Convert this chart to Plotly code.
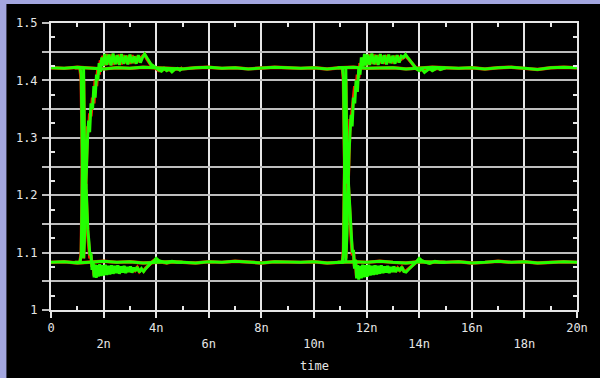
import plotly.graph_objects as go

# ---------------- data (time in ns, voltage in V) ----------------
t_flat = [0, 0.5, 1, 1.5, 2, 2.5, 3, 3.5, 4, 4.5, 5, 5.5, 6, 6.5, 7, 7.5, 8, 8.5, 9, 9.5,
          10, 10.5, 11, 11.5, 12, 12.5, 13, 13.5, 14, 14.5, 15, 15.5, 16, 16.5, 17, 17.5,
          18, 18.5, 19, 19.5, 20]
hi_flat = [1.422, 1.421, 1.423, 1.422, 1.420, 1.422, 1.421, 1.423, 1.422, 1.421,
           1.420, 1.422, 1.423, 1.421, 1.422, 1.420, 1.421, 1.423, 1.422, 1.421,
           1.422, 1.420, 1.422, 1.423, 1.421, 1.422, 1.422, 1.420, 1.421, 1.423,
           1.422, 1.421, 1.422, 1.420, 1.422, 1.423, 1.421, 1.419, 1.422, 1.423, 1.422]
lo_flat = [1.083, 1.084, 1.082, 1.083, 1.085, 1.083, 1.084, 1.082, 1.083, 1.084,
           1.083, 1.082, 1.084, 1.083, 1.085, 1.083, 1.082, 1.084, 1.083, 1.083,
           1.084, 1.082, 1.083, 1.084, 1.083, 1.085, 1.083, 1.082, 1.084, 1.083,
           1.083, 1.084, 1.082, 1.083, 1.085, 1.083, 1.084, 1.082, 1.083, 1.084, 1.083]

# glitch 1: high trace dips and recovers (A1), low trace spikes and decays (B1)
tA1 = [0.9, 1.1, 1.15, 1.18, 1.21, 1.24, 1.27, 1.31, 1.35, 1.39,
       1.43, 1.47, 1.52, 1.58, 1.63, 1.68, 1.73, 1.78, 1.83, 1.88,
       1.93, 1.98, 2.05, 2.12, 2.2, 2.28, 2.36, 2.44, 2.52, 2.6,
       2.68, 2.76, 2.84, 2.92, 3.0, 3.08, 3.16, 3.24, 3.32, 3.4,
       3.48, 3.56, 3.64, 3.72, 3.8, 3.9, 4.0, 4.1, 4.2, 4.3,
       4.4, 4.5, 4.6, 4.7, 4.8, 4.9, 5.0]
vA1 = [1.422, 1.422, 1.41, 1.33, 1.19, 1.09, 1.12, 1.20, 1.27, 1.30,
       1.33, 1.31, 1.36, 1.35, 1.39, 1.37, 1.41, 1.40, 1.43, 1.415,
       1.44, 1.425, 1.446, 1.427, 1.445, 1.426, 1.447, 1.428, 1.444, 1.427,
       1.446, 1.429, 1.443, 1.428, 1.445, 1.43, 1.442, 1.429, 1.444, 1.431,
       1.44, 1.446, 1.44, 1.434, 1.428, 1.425, 1.421, 1.418, 1.416, 1.421,
       1.417, 1.42, 1.415, 1.419, 1.421, 1.418, 1.422]
rA1 = [1.422, 1.422, 1.40, 1.30, 1.16, 1.09, 1.14, 1.22, 1.28, 1.32,
       1.31, 1.34, 1.34, 1.37, 1.36, 1.40, 1.39, 1.42, 1.41, 1.435,
       1.428, 1.443, 1.426, 1.446, 1.428, 1.445, 1.427, 1.443, 1.429, 1.445,
       1.428, 1.444, 1.43, 1.443, 1.429, 1.444, 1.43, 1.442, 1.432, 1.439,
       1.442, 1.445, 1.438, 1.433, 1.427, 1.424, 1.42, 1.417, 1.417, 1.42,
       1.418, 1.419, 1.416, 1.42, 1.42, 1.419, 1.422]

tB1 = [0.9, 1.1, 1.15, 1.18, 1.21, 1.24, 1.27, 1.3, 1.33, 1.36,
       1.4, 1.44, 1.48, 1.52, 1.56, 1.6, 1.64, 1.68, 1.72, 1.76,
       1.8, 1.85, 1.9, 1.95, 2.0, 2.06, 2.12, 2.18, 2.24, 2.3,
       2.36, 2.42, 2.48, 2.54, 2.6, 2.66, 2.72, 2.78, 2.84, 2.9,
       2.96, 3.02, 3.08, 3.14, 3.2, 3.28, 3.36, 3.44, 3.52, 3.6,
       3.7, 3.8, 3.9, 4.0, 4.1, 4.25, 4.4, 4.6, 4.8, 5.0]
vB1 = [1.083, 1.083, 1.095, 1.19, 1.33, 1.42, 1.30, 1.21, 1.22, 1.17,
       1.14, 1.12, 1.095, 1.10, 1.07, 1.085, 1.057, 1.079, 1.056, 1.078,
       1.058, 1.08, 1.059, 1.078, 1.06, 1.079, 1.061, 1.077, 1.062, 1.078,
       1.063, 1.077, 1.064, 1.078, 1.063, 1.076, 1.065, 1.077, 1.064, 1.075,
       1.066, 1.076, 1.065, 1.074, 1.068, 1.075, 1.066, 1.072, 1.067, 1.072,
       1.077, 1.082, 1.085, 1.09, 1.086, 1.084, 1.082, 1.085, 1.083, 1.083]
rB1 = [1.083, 1.083, 1.10, 1.22, 1.36, 1.40, 1.28, 1.20, 1.21, 1.16,
       1.13, 1.11, 1.09, 1.095, 1.075, 1.08, 1.06, 1.077, 1.058, 1.076,
       1.06, 1.078, 1.061, 1.077, 1.062, 1.078, 1.063, 1.076, 1.064, 1.077,
       1.064, 1.076, 1.066, 1.077, 1.064, 1.075, 1.066, 1.076, 1.066, 1.074,
       1.067, 1.075, 1.066, 1.073, 1.069, 1.074, 1.067, 1.071, 1.068, 1.073,
       1.078, 1.083, 1.086, 1.088, 1.085, 1.083, 1.082, 1.084, 1.083, 1.083]

# glitch 2
tA2 = [10.9, 11.08, 11.12, 11.15, 11.18, 11.21, 11.25, 11.29, 11.33, 11.37,
       11.41, 11.45, 11.5, 11.55, 11.6, 11.65, 11.7, 11.75, 11.8, 11.86,
       11.92, 11.98, 12.05, 12.12, 12.2, 12.28, 12.36, 12.44, 12.52, 12.6,
       12.68, 12.76, 12.84, 12.92, 13.0, 13.08, 13.16, 13.24, 13.32, 13.4,
       13.48, 13.56, 13.64, 13.72, 13.8, 13.9, 14.0, 14.1, 14.2, 14.3,
       14.4, 14.5, 14.6, 14.7, 14.8, 15.0]
vA2 = [1.422, 1.422, 1.405, 1.32, 1.17, 1.085, 1.13, 1.21, 1.27, 1.31,
       1.34, 1.32, 1.37, 1.36, 1.40, 1.38, 1.42, 1.41, 1.44, 1.424,
       1.446, 1.426, 1.445, 1.427, 1.447, 1.428, 1.444, 1.427, 1.446, 1.429,
       1.444, 1.428, 1.445, 1.43, 1.443, 1.429, 1.444, 1.431, 1.442, 1.44,
       1.445, 1.44, 1.435, 1.43, 1.426, 1.42, 1.417, 1.42, 1.414, 1.418,
       1.421, 1.417, 1.42, 1.422, 1.419, 1.422]
rA2 = [1.422, 1.422, 1.40, 1.30, 1.15, 1.09, 1.15, 1.23, 1.28, 1.33,
       1.33, 1.35, 1.36, 1.39, 1.385, 1.41, 1.405, 1.43, 1.425, 1.44,
       1.428, 1.444, 1.427, 1.446, 1.429, 1.445, 1.428, 1.444, 1.43, 1.443,
       1.429, 1.444, 1.431, 1.442, 1.43, 1.443, 1.432, 1.44, 1.437, 1.441,
       1.443, 1.439, 1.434, 1.429, 1.425, 1.42, 1.418, 1.419, 1.416, 1.419,
       1.42, 1.418, 1.42, 1.421, 1.42, 1.422]

tB2 = [10.9, 11.08, 11.12, 11.15, 11.18, 11.21, 11.24, 11.27, 11.3, 11.34,
       11.38, 11.42, 11.46, 11.5, 11.54, 11.58, 11.62, 11.66, 11.7, 11.75,
       11.8, 11.85, 11.9, 11.96, 12.02, 12.08, 12.14, 12.2, 12.26, 12.32,
       12.38, 12.44, 12.5, 12.56, 12.62, 12.68, 12.74, 12.8, 12.86, 12.92,
       12.98, 13.04, 13.1, 13.18, 13.26, 13.34, 13.42, 13.5, 13.6, 13.7,
       13.8, 13.9, 14.0, 14.1, 14.25, 14.4, 14.6, 14.8, 15.0]
vB2 = [1.083, 1.083, 1.10, 1.20, 1.36, 1.42, 1.30, 1.22, 1.23, 1.19,
       1.15, 1.13, 1.10, 1.105, 1.072, 1.088, 1.055, 1.078, 1.053, 1.077,
       1.055, 1.079, 1.057, 1.078, 1.058, 1.079, 1.06, 1.077, 1.061, 1.078,
       1.062, 1.077, 1.063, 1.078, 1.064, 1.076, 1.065, 1.077, 1.064, 1.075,
       1.066, 1.076, 1.066, 1.074, 1.068, 1.075, 1.067, 1.066, 1.071, 1.075,
       1.08, 1.084, 1.09, 1.086, 1.083, 1.081, 1.085, 1.083, 1.083]
rB2 = [1.083, 1.083, 1.105, 1.22, 1.38, 1.40, 1.28, 1.21, 1.22, 1.18,
       1.14, 1.12, 1.095, 1.10, 1.076, 1.084, 1.058, 1.076, 1.056, 1.075,
       1.058, 1.077, 1.059, 1.077, 1.06, 1.078, 1.062, 1.076, 1.063, 1.077,
       1.063, 1.076, 1.065, 1.077, 1.065, 1.075, 1.066, 1.076, 1.066, 1.074,
       1.067, 1.075, 1.067, 1.073, 1.069, 1.074, 1.068, 1.068, 1.072, 1.076,
       1.081, 1.085, 1.088, 1.085, 1.083, 1.082, 1.084, 1.083, 1.083]

x_major = [0, 2, 4, 6, 8, 10, 12, 14, 16, 18, 20]
x_labels = ["0", "<br>2n", "4n", "<br>6n", "8n", "<br>10n", "12n", "<br>14n", "16n", "<br>18n", "20n"]
x_minor = [1, 3, 5, 7, 9, 11, 13, 15, 17, 19]
y_major = [1.0, 1.05, 1.1, 1.15, 1.2, 1.25, 1.3, 1.35, 1.4, 1.45, 1.5]
y_labels = ["1", "", "1.1", "", "1.2", "", "1.3", "", "1.4", "", "1.5"]
y_minor = [1.025, 1.075, 1.125, 1.175, 1.225, 1.275, 1.325, 1.375, 1.425, 1.475]

# ---------------- figure ----------------
RED = "#ff1a00"
GREEN = "#22ff00"
FONT = dict(family="DejaVu Sans Mono", size=12, color="#e6e6e6")

fig = go.Figure()
red_sets = [(t_flat, hi_flat), (t_flat, lo_flat), (tA1, rA1), (tB1, rB1), (tA2, rA2), (tB2, rB2)]
green_sets = [(t_flat, hi_flat), (t_flat, lo_flat), (tA1, vA1), (tB1, vB1), (tA2, vA2), (tB2, vB2)]
for tx, vy in red_sets:
    fig.add_trace(go.Scatter(x=tx, y=vy, mode="lines", line=dict(color=RED, width=3.4),
                             showlegend=False, hoverinfo="skip"))
for tx, vy in green_sets:
    fig.add_trace(go.Scatter(x=tx, y=vy, mode="lines", line=dict(color=GREEN, width=3),
                             showlegend=False, hoverinfo="skip"))
# helper (empty) trace for the top/right inside tick axes
fig.add_trace(go.Scatter(x=[], y=[], xaxis="x2", yaxis="y2", showlegend=False, hoverinfo="skip"))

W, H = 600, 378
L, R, T, B = 51, 18, 23, 68
pw, ph = W - L - R, H - T - B

fig.update_layout(
    width=W, height=H,
    margin=dict(l=L, r=R, t=T, b=B, pad=0),
    paper_bgcolor="#a3a6df",
    plot_bgcolor="#000000",
    font=FONT,
    showlegend=False,
    xaxis=dict(
        range=[0, 20], tickmode="array", tickvals=x_major, ticktext=x_labels,
        ticks="outside", ticklen=6, tickwidth=2, tickcolor="#e6e6e6",
        showgrid=True, gridcolor="#e6e6e6", gridwidth=2, zeroline=False,
        showline=True, linecolor="#e6e6e6", linewidth=2, mirror=True,
        tickfont=FONT, fixedrange=True,
        minor=dict(tickvals=x_minor, ticks="inside", ticklen=4, tickwidth=2,
                   tickcolor="#e6e6e6", showgrid=False),
    ),
    yaxis=dict(
        range=[1.0, 1.5], tickmode="array", tickvals=y_major, ticktext=y_labels,
        ticks="outside", ticklen=7, tickwidth=2, tickcolor="#bdbdbd",
        showgrid=True, gridcolor="#bdbdbd", gridwidth=2, zeroline=False,
        showline=True, linecolor="#e6e6e6", linewidth=2, mirror=True,
        tickfont=FONT, ticklabelstandoff=2, fixedrange=True,
        minor=dict(tickvals=y_minor, ticks="inside", ticklen=4, tickwidth=2,
                   tickcolor="#e6e6e6", showgrid=False),
    ),
    xaxis2=dict(
        overlaying="x", side="top", range=[0, 20], tickmode="array", tickvals=x_minor,
        ticks="inside", ticklen=4, tickwidth=2, tickcolor="#e6e6e6",
        showticklabels=False, showgrid=False, zeroline=False, showline=False, fixedrange=True,
    ),
    yaxis2=dict(
        overlaying="y", side="right", range=[1.0, 1.5], tickmode="array", tickvals=y_minor,
        ticks="inside", ticklen=4, tickwidth=2, tickcolor="#e6e6e6",
        showticklabels=False, showgrid=False, zeroline=False, showline=False, fixedrange=True,
    ),
    shapes=[dict(
        type="rect", xref="paper", yref="paper", layer="below",
        x0=(6 - L) / pw, x1=(W - L) / pw + 0.01,
        y0=-(B + 1) / ph, y1=(H - B - 4) / ph,
        fillcolor="#000000", line=dict(width=0),
    )],
    annotations=[dict(
        text="time", xref="paper", yref="paper", x=0.5, y=-(366 - (H - B)) / ph,
        xanchor="center", yanchor="middle", showarrow=False, font=FONT,
    )],
)

fig.write_html("out.html")
